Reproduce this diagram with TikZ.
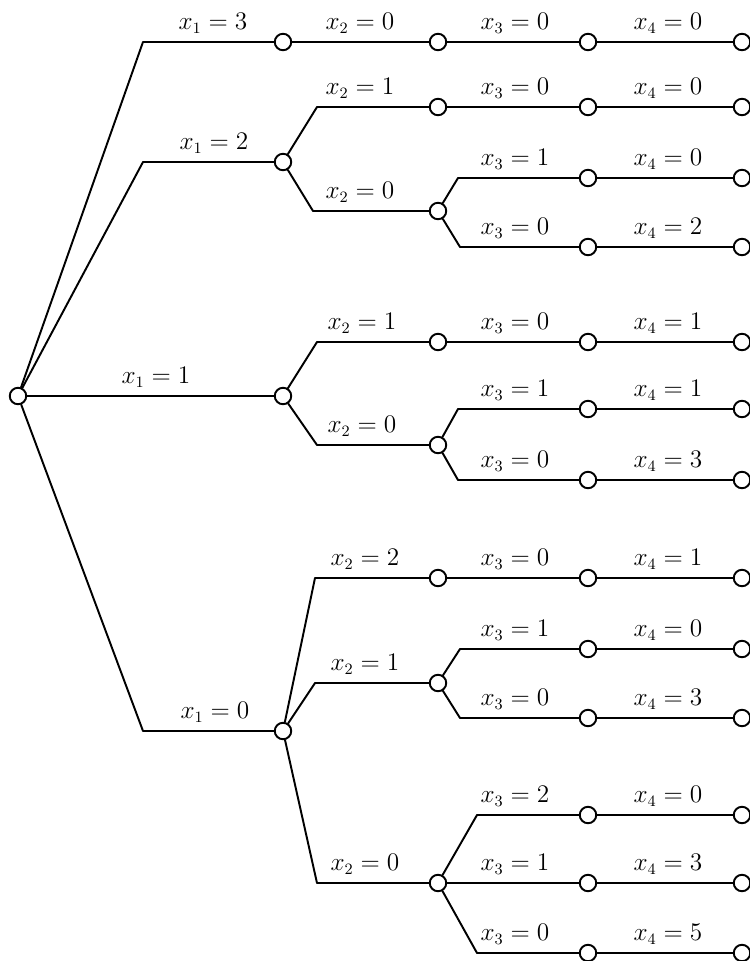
\documentclass[tikz,border=0pt]{standalone}

\begin{document}
\begin{tikzpicture}[x=0.02cm,y=-0.02cm,line join=round,line cap=round,line width=1.1pt,
  st/.style={circle,draw,line width=1.1pt,fill=white,inner sep=0pt,minimum size=0.33cm},
  lbl/.style={anchor=south,inner sep=1pt,font=\fontsize{13.5}{16}\selectfont}]
  \useasboundingbox (0,0) rectangle (750,961);

  \node[st] (R) at (18,396) {};

  \node[st] (A1) at (283,42) {};
  \node[st] (A2) at (283,162) {};
  \node[st] (A3) at (283,396) {};
  \node[st] (A4) at (283,731) {};
  \coordinate (a1) at (143,42);
  \coordinate (a2) at (143,162);
  \coordinate (a4) at (143,731);

  \node[st] (B1) at (438,42) {};
  \node[st] (B2) at (438,107) {};
  \node[st] (B3) at (438,211) {};
  \node[st] (B4) at (438,342) {};
  \node[st] (B5) at (438,445) {};
  \node[st] (B6) at (438,578) {};
  \node[st] (B7) at (438,683) {};
  \node[st] (B8) at (438,883) {};
  \coordinate (b2) at (317,107);
  \coordinate (b3) at (313,211);
  \coordinate (b4) at (317,342);
  \coordinate (b5) at (317,445);
  \coordinate (b6) at (315,578);
  \coordinate (b7) at (315,683);
  \coordinate (b8) at (317,883);

  \node[st] (C1) at (588,42) {};
  \node[st] (C2) at (588,107) {};
  \node[st] (C3) at (588,178) {};
  \node[st] (C4) at (588,247) {};
  \node[st] (C5) at (588,342) {};
  \node[st] (C6) at (588,409) {};
  \node[st] (C7) at (588,480) {};
  \node[st] (C8) at (588,578) {};
  \node[st] (C9) at (588,649) {};
  \node[st] (C10) at (588,718) {};
  \node[st] (C11) at (588,815) {};
  \node[st] (C12) at (588,883) {};
  \node[st] (C13) at (588,953) {};
  \coordinate (c3) at (458,178);
  \coordinate (c4) at (460,247);
  \coordinate (c6) at (458,409);
  \coordinate (c7) at (458,480);
  \coordinate (c9) at (460,649);
  \coordinate (c10) at (460,718);
  \coordinate (c11) at (477,815);
  \coordinate (c13) at (477,953);

  \node[st] (D1) at (742,42) {};
  \node[st] (D2) at (742,107) {};
  \node[st] (D3) at (742,178) {};
  \node[st] (D4) at (742,247) {};
  \node[st] (D5) at (742,342) {};
  \node[st] (D6) at (742,409) {};
  \node[st] (D7) at (742,480) {};
  \node[st] (D8) at (742,578) {};
  \node[st] (D9) at (742,649) {};
  \node[st] (D10) at (742,718) {};
  \node[st] (D11) at (742,815) {};
  \node[st] (D12) at (742,883) {};
  \node[st] (D13) at (742,953) {};

  \draw (R)--(a1)--(A1);
  \draw (R)--(a2)--(A2);
  \draw (R)--(A3);
  \draw (R)--(a4)--(A4);

  \draw (A1)--(B1);
  \draw (A2)--(b2)--(B2);
  \draw (A2)--(b3)--(B3);
  \draw (A3)--(b4)--(B4);
  \draw (A3)--(b5)--(B5);
  \draw (A4)--(b6)--(B6);
  \draw (A4)--(b7)--(B7);
  \draw (A4)--(b8)--(B8);

  \draw (B1)--(C1);
  \draw (B2)--(C2);
  \draw (B3)--(c3)--(C3);
  \draw (B3)--(c4)--(C4);
  \draw (B4)--(C5);
  \draw (B5)--(c6)--(C6);
  \draw (B5)--(c7)--(C7);
  \draw (B6)--(C8);
  \draw (B7)--(c9)--(C9);
  \draw (B7)--(c10)--(C10);
  \draw (B8)--(c11)--(C11);
  \draw (B8)--(C12);
  \draw (B8)--(c13)--(C13);

  \draw (C1)--(D1);
  \draw (C2)--(D2);
  \draw (C3)--(D3);
  \draw (C4)--(D4);
  \draw (C5)--(D5);
  \draw (C6)--(D6);
  \draw (C7)--(D7);
  \draw (C8)--(D8);
  \draw (C9)--(D9);
  \draw (C10)--(D10);
  \draw (C11)--(D11);
  \draw (C12)--(D12);
  \draw (C13)--(D13);

  \node[lbl] (tA1) at (213,36) {$x_1 = 3$};
  \node[lbl] (tA2) at (214,156) {$x_1 = 2$};
  \node[lbl] (tA3) at (156,390) {$x_1 = 1$};
  \node[lbl] (tA4) at (215,725) {$x_1 = 0$};

  \node[lbl] (tB1) at (360,36) {$x_2 = 0$};
  \node[lbl] (tB2) at (360,101) {$x_2 = 1$};
  \node[lbl] (tB3) at (360,205) {$x_2 = 0$};
  \node[lbl] (tB4) at (362,336) {$x_2 = 1$};
  \node[lbl] (tB5) at (362,439) {$x_2 = 0$};
  \node[lbl] (tB6) at (365,572) {$x_2 = 2$};
  \node[lbl] (tB7) at (365,677) {$x_2 = 1$};
  \node[lbl] (tB8) at (365,877) {$x_2 = 0$};

  \node[lbl] (tC1) at (515,36) {$x_3 = 0$};
  \node[lbl] (tC2) at (515,101) {$x_3 = 0$};
  \node[lbl] (tC3) at (515,172) {$x_3 = 1$};
  \node[lbl] (tC4) at (515,241) {$x_3 = 0$};
  \node[lbl] (tC5) at (515,336) {$x_3 = 0$};
  \node[lbl] (tC6) at (515,403) {$x_3 = 1$};
  \node[lbl] (tC7) at (515,474) {$x_3 = 0$};
  \node[lbl] (tC8) at (515,572) {$x_3 = 0$};
  \node[lbl] (tC9) at (515,643) {$x_3 = 1$};
  \node[lbl] (tC10) at (515,712) {$x_3 = 0$};
  \node[lbl] (tC11) at (515,809) {$x_3 = 2$};
  \node[lbl] (tC12) at (515,877) {$x_3 = 1$};
  \node[lbl] (tC13) at (515,947) {$x_3 = 0$};

  \node[lbl] (tD1) at (668,36) {$x_4 = 0$};
  \node[lbl] (tD2) at (668,101) {$x_4 = 0$};
  \node[lbl] (tD3) at (668,172) {$x_4 = 0$};
  \node[lbl] (tD4) at (668,241) {$x_4 = 2$};
  \node[lbl] (tD5) at (668,336) {$x_4 = 1$};
  \node[lbl] (tD6) at (668,403) {$x_4 = 1$};
  \node[lbl] (tD7) at (668,474) {$x_4 = 3$};
  \node[lbl] (tD8) at (668,572) {$x_4 = 1$};
  \node[lbl] (tD9) at (668,643) {$x_4 = 0$};
  \node[lbl] (tD10) at (668,712) {$x_4 = 3$};
  \node[lbl] (tD11) at (668,809) {$x_4 = 0$};
  \node[lbl] (tD12) at (668,877) {$x_4 = 3$};
  \node[lbl] (tD13) at (668,947) {$x_4 = 5$};
\end{tikzpicture}
\end{document}
